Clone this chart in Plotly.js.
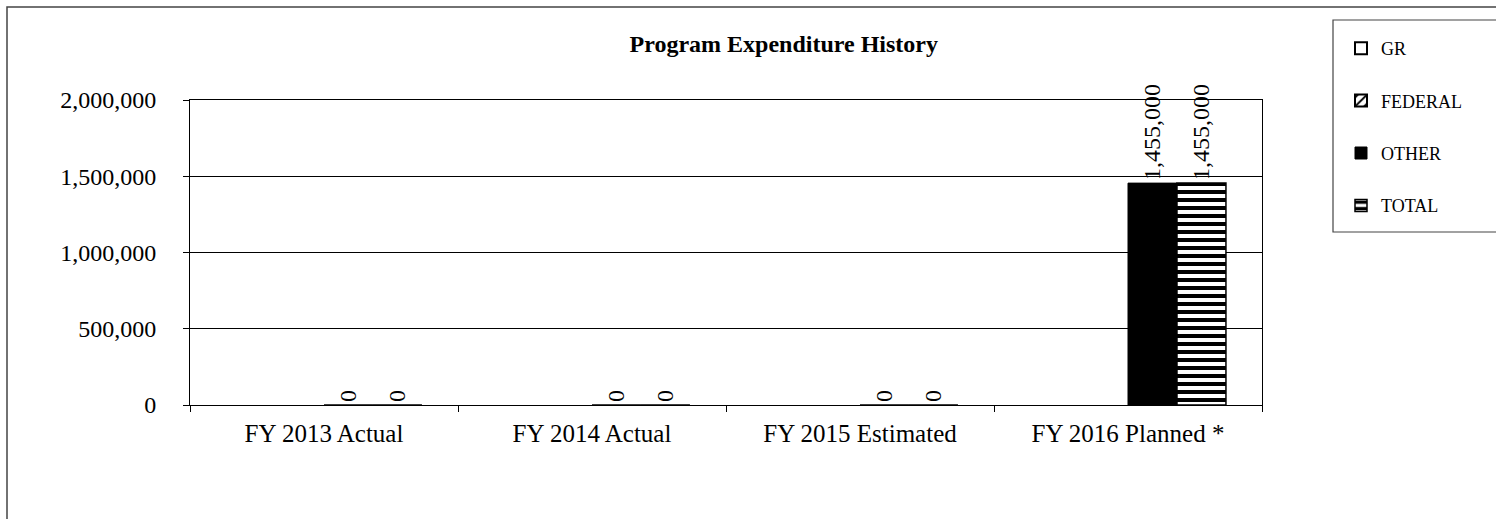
<!DOCTYPE html>
<html>
<head>
<meta charset="utf-8">
<script src="https://cdn.plot.ly/plotly-3.0.1.min.js"></script>
<style>
  html, body { margin: 0; padding: 0; background: #ffffff; }
  #chart { width: 1496px; height: 519px; }
</style>
</head>
<body>
<div id="chart"></div>
<script>
const categories = ["FY 2013 Actual", "FY 2014 Actual", "FY 2015 Estimated", "FY 2016 Planned *"];
const seriesNames = ["GR", "FEDERAL", "OTHER", "TOTAL"];
const grValues = [null, null, null, null];
const federalValues = [null, null, null, null];
const otherValues = [0, 0, 0, 1455000];
const totalValues = [0, 0, 0, 1455000];
const yTickValues = [0, 500000, 1000000, 1500000, 2000000];
const yTickLabels = ["0", "500,000", "1,000,000", "1,500,000", "2,000,000"];

const FONT = "Liberation Serif, Times New Roman, serif";
const W = 1496, H = 519;
const L = 190, R = 1262, T = 100, B = 405;
const pw = R - L, ph = B - T;
const px = x => (x - L) / pw;
const py = y => (B - y) / ph;

const labelFont = { family: FONT, size: 24, color: "#000" };

const traces = [
  {
    name: seriesNames[0], x: categories, y: grValues, type: "bar",
    legendgroup: "g1",
    marker: { color: "#ffffff", line: { color: "#000", width: 2 } },
    hoverinfo: "skip"
  },
  {
    name: seriesNames[1], x: categories, y: federalValues, type: "bar",
    legendgroup: "g2",
    marker: { color: "#ffffff", line: { color: "#000", width: 2 },
              pattern: { shape: "/", bgcolor: "#ffffff", fgcolor: "#000", size: 8, solidity: 0.3 } },
    hoverinfo: "skip"
  },
  {
    name: seriesNames[2], x: categories, y: otherValues, type: "bar",
    legendgroup: "g3",
    marker: { color: "#000000", line: { color: "#000", width: 1 } },
    texttemplate: "%{y:,.0f}", textposition: "outside", textangle: -90,
    constraintext: "none",
    textfont: labelFont, cliponaxis: false,
    hoverinfo: "skip"
  },
  {
    name: seriesNames[3], x: categories, y: totalValues, type: "bar",
    legendgroup: "g4",
    marker: { color: "#ffffff", line: { color: "#000", width: 1.5 },
              pattern: { shape: "-", bgcolor: "#ffffff", fgcolor: "#000", size: 8, solidity: 0.5 } },
    texttemplate: "%{y:,.0f}", textposition: "outside", textangle: -90,
    constraintext: "none",
    textfont: labelFont, cliponaxis: false,
    hoverinfo: "skip"
  }
];

const layout = {
  width: W, height: H,
  margin: { l: L, r: W - R, t: T, b: H - B, pad: 0 },
  paper_bgcolor: "#ffffff",
  plot_bgcolor: "#ffffff",
  font: { family: FONT, size: 24, color: "#000" },
  title: {
    text: "<b>Program Expenditure History</b>",
    font: { family: FONT, size: 24, color: "#000" },
    xref: "paper", x: px(938), xanchor: "right",
    yref: "container", y: 1 - 44 / H, yanchor: "middle"
  },
  barmode: "group",
  bargap: 0.269,
  bargroupgap: 0,
  xaxis: {
    type: "category",
    showline: true, linecolor: "#000", linewidth: 1, mirror: true,
    ticks: "outside", ticklen: 6, tickcolor: "#000", tickwidth: 1,
    tickson: "boundaries",
    ticklabelstandoff: 6,
    showgrid: false,
    tickfont: { family: FONT, size: 25, color: "#000" },
    fixedrange: true
  },
  yaxis: {
    range: [0, 2000000],
    tickvals: yTickValues, ticktext: yTickLabels,
    showline: true, linecolor: "#000", linewidth: 1, mirror: true,
    ticks: "outside", ticklen: 6, tickcolor: "#000", tickwidth: 1,
    ticklabelstandoff: 22,
    showgrid: true, gridcolor: "#000", gridwidth: 1,
    zeroline: false,
    tickfont: { family: FONT, size: 24, color: "#000" },
    fixedrange: true
  },
  showlegend: true,
  legend: {
    x: px(1341), y: py(30), xanchor: "left", yanchor: "top",
    xref: "paper", yref: "paper",
    bgcolor: "rgba(0,0,0,0)", borderwidth: 0,
    font: { family: FONT, size: 18, color: "#000" },
    traceorder: "grouped", tracegroupgap: 26,
    itemwidth: 30
  },
  shapes: [
    { type: "rect", xref: "paper", yref: "paper",
      x0: px(7), x1: px(1510), y0: py(540), y1: py(7),
      line: { color: "#444", width: 1.5 }, fillcolor: "rgba(0,0,0,0)", layer: "below" },
    { type: "rect", xref: "paper", yref: "paper",
      x0: px(1333), x1: px(1510), y0: py(232), y1: py(20),
      line: { color: "#444", width: 1.2 }, fillcolor: "rgba(0,0,0,0)", layer: "below" }
  ]
};

Plotly.newPlot("chart", traces, layout, { displayModeBar: false, staticPlot: true });
</script>
</body>
</html>
